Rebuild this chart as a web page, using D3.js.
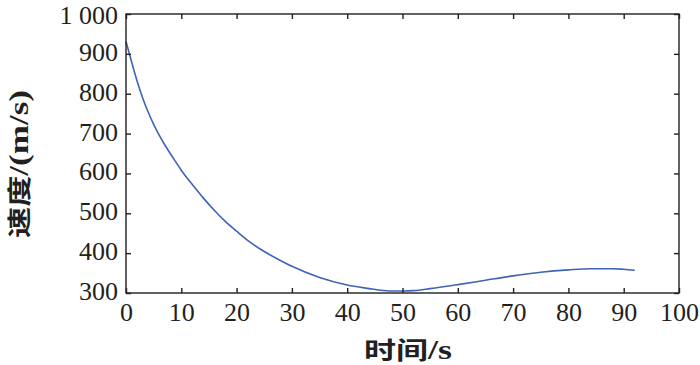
<!DOCTYPE html>
<html><head><meta charset="utf-8">
<script src="https://cdn.jsdelivr.net/npm/d3@7"></script>
<style>
html,body{margin:0;padding:0;background:#fff;}
svg{display:block;}
</style></head>
<body>
<svg id="chart" width="700" height="365"></svg>
<script>
const timeS = [0,1,2,3,4,5,6,7,8,9,10,12,14,16,18,20,22,25,28,30,35,40,44,46,48,50,52,55,60,65,70,75,80,84,88,90,92];
const speed = [931,880,832,790,754,723,696,672,650,629,608,572,538,507,479,455,432,404,381,367,339,320,311,307,305,305,306,311,321,332,343,352,358,361,361,359.5,357];
const xTicks = [0,10,20,30,40,50,60,70,80,90,100];
const yTicks = [300,400,500,600,700,800,900,1000];
const yTickLabels = ["300","400","500","600","700","800","900","1 000"];
const xTitleCJK = "时间", xTitleLatin = "/s";
const yTitleCJK = "速度", yTitleLatin = "/(m/s)";

const m = {left:126, right:679, top:14, bottom:293};
const svg = d3.select("#chart");
const x = d3.scaleLinear().domain([0,100]).range([m.left, m.right]);
const y = d3.scaleLinear().domain([300,1000]).range([m.bottom, m.top]);
const axisColor = "#231f20";
const font = "'Liberation Serif','Times New Roman',serif";
const cjk = "'Noto Sans CJK SC',sans-serif";

// line
const line = d3.line().x((d,i)=>x(timeS[i])).y(d=>y(d)).curve(d3.curveMonotoneX);
svg.append("path").datum(speed).attr("d", line)
  .attr("fill","none").attr("stroke","#3f64b5").attr("stroke-width",1.6);

// frame
svg.append("rect").attr("x",m.left).attr("y",m.top)
  .attr("width",m.right-m.left).attr("height",m.bottom-m.top)
  .attr("fill","none").attr("stroke",axisColor).attr("stroke-width",1.4);

const tl = 5;
const bx = svg.append("g").attr("transform",`translate(0,${m.bottom})`)
  .call(d3.axisBottom(x).tickValues(xTicks).tickSize(-tl).tickFormat(d3.format("d")));
const tx = svg.append("g").attr("transform",`translate(0,${m.top})`)
  .call(d3.axisTop(x).tickValues(xTicks).tickSize(-tl).tickFormat(""));
const ly = svg.append("g").attr("transform",`translate(${m.left},0)`)
  .call(d3.axisLeft(y).tickValues(yTicks).tickSize(-tl).tickPadding(8)
    .tickFormat((d,i)=>yTickLabels[i]));
const ry = svg.append("g").attr("transform",`translate(${m.right},0)`)
  .call(d3.axisRight(y).tickValues(yTicks).tickSize(-tl).tickFormat(""));

[bx,tx,ly,ry].forEach(g=>{
  g.select(".domain").remove();
  g.selectAll(".tick line").attr("stroke",axisColor).attr("stroke-width",1.4);
  g.selectAll("text").attr("fill",axisColor).attr("font-family",font).attr("font-size",26);
});
bx.selectAll("text").attr("y",10).attr("dy","0.71em");
ly.selectAll("text").attr("dy",d=>d===1000?"0.37em":"0.25em");

// titles
const xt = svg.append("text").attr("x",364).attr("y",359)
  .attr("textLength",88).attr("lengthAdjust","spacingAndGlyphs")
  .attr("font-weight","bold").attr("fill",axisColor);
xt.append("tspan").attr("font-family",cjk).attr("font-size",24).text(xTitleCJK);
xt.append("tspan").attr("font-family",font).attr("font-size",27).text(xTitleLatin);

const yt = svg.append("text").attr("transform","translate(28,238) rotate(-90)")
  .attr("textLength",148).attr("lengthAdjust","spacingAndGlyphs")
  .attr("font-weight","bold").attr("fill",axisColor);
yt.append("tspan").attr("font-family",cjk).attr("font-size",24).text(yTitleCJK);
yt.append("tspan").attr("font-family",font).attr("font-size",27).text(yTitleLatin);
</script>
</body></html>
